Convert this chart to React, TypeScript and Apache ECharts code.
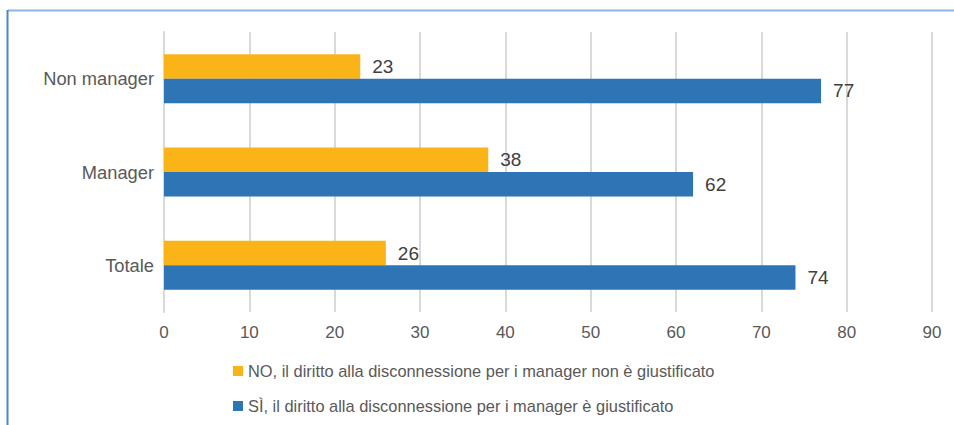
import React, { useEffect, useRef } from "react";
import * as echarts from "echarts";

const categories = ["Totale", "Manager", "Non manager"];
const noValues = [26, 38, 23];
const siValues = [74, 62, 77];
const seriesNames = [
  "NO, il diritto alla disconnessione per i manager non è giustificato",
  "SÌ, il diritto alla disconnessione per i manager è giustificato",
];
const axisMax = 90;
const axisInterval = 10;

const FONT = "'Liberation Sans', Arial, sans-serif";

export default function App() {
  const ref = useRef<HTMLDivElement>(null);
  useEffect(() => {
    if (!ref.current) return;
    const chart = echarts.init(ref.current, undefined, { renderer: "svg" });
    const labelCfg = {
      show: true,
      position: "right",
      distance: 12,
      fontSize: 19,
      color: "#404040",
      fontFamily: FONT,
    };
    chart.setOption({
      animation: false,
      textStyle: { fontFamily: FONT },
      graphic: [
        {
          type: "line",
          shape: { x1: 8, y1: 10.5, x2: 954, y2: 10.5 },
          style: { stroke: "#8DB4E2", lineWidth: 2 },
        },
        {
          type: "line",
          shape: { x1: 7.5, y1: 10, x2: 7.5, y2: 425 },
          style: { stroke: "#4A86C8", lineWidth: 2 },
        },
      ],
      grid: { left: 164, right: 22, top: 32, bottom: 113, containLabel: false },
      xAxis: {
        type: "value",
        min: 0,
        max: axisMax,
        interval: axisInterval,
        axisLine: { show: false },
        axisTick: { show: false },
        splitLine: { show: true, lineStyle: { color: "#D9D9D9", width: 2 } },
        axisLabel: { fontSize: 17, color: "#595959", margin: 12, fontFamily: FONT },
      },
      yAxis: {
        type: "category",
        data: categories,
        axisLine: { show: true, lineStyle: { color: "#D9D9D9", width: 2 } },
        axisTick: { show: false },
        axisLabel: { fontSize: 18.3, color: "#595959", margin: 10, fontFamily: FONT },
      },
      legend: {
        orient: "vertical",
        left: 228,
        top: 358,
        itemWidth: 10,
        itemHeight: 10,
        itemGap: 19,
        icon: "rect",
        textStyle: { fontSize: 16.4, color: "#595959", fontFamily: FONT },
        data: seriesNames,
      },
      series: [
        {
          name: seriesNames[0],
          type: "bar",
          data: noValues,
          barWidth: 24.5,
          barGap: "0%",
          itemStyle: { color: "#FBB418" },
          label: labelCfg,
        },
        {
          name: seriesNames[1],
          type: "bar",
          data: siValues,
          barWidth: 24.5,
          barGap: "0%",
          itemStyle: { color: "#2E75B6" },
          label: labelCfg,
        },
      ],
    });
    return () => chart.dispose();
  }, []);
  return (
    <div
      ref={ref}
      style={{ position: "absolute", left: 0, top: 0, width: 954, height: 425 }}
    />
  );
}
